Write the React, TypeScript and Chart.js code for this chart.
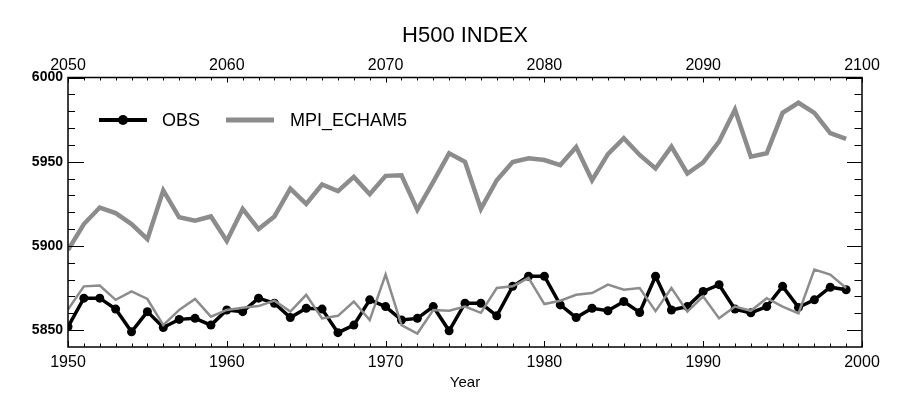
import { useEffect, useRef } from 'react';
import { Chart, registerables } from 'chart.js';

Chart.register(...registerables);

const FONT = "'Liberation Sans', Arial, Helvetica, sans-serif";

// Bottom axis (historical period)
const obsYears = [
  1950, 1951, 1952, 1953, 1954, 1955, 1956, 1957, 1958, 1959,
  1960, 1961, 1962, 1963, 1964, 1965, 1966, 1967, 1968, 1969,
  1970, 1971, 1972, 1973, 1974, 1975, 1976, 1977, 1978, 1979,
  1980, 1981, 1982, 1983, 1984, 1985, 1986, 1987, 1988, 1989,
  1990, 1991, 1992, 1993, 1994, 1995, 1996, 1997, 1998, 1999,
];
// Top axis (future period)
const futureYears = [
  2050, 2051, 2052, 2053, 2054, 2055, 2056, 2057, 2058, 2059,
  2060, 2061, 2062, 2063, 2064, 2065, 2066, 2067, 2068, 2069,
  2070, 2071, 2072, 2073, 2074, 2075, 2076, 2077, 2078, 2079,
  2080, 2081, 2082, 2083, 2084, 2085, 2086, 2087, 2088, 2089,
  2090, 2091, 2092, 2093, 2094, 2095, 2096, 2097, 2098, 2099,
];

const obsValues = [
  5852, 5869, 5869, 5862.5, 5849, 5861, 5851.6, 5856.4, 5857, 5853,
  5862, 5861, 5869, 5866, 5857.5, 5863, 5862.5, 5848.5, 5853, 5868,
  5864, 5856, 5857, 5864, 5849.6, 5866, 5866, 5858.5, 5876, 5882,
  5882, 5865, 5857.5, 5863, 5861.5, 5867, 5860.5, 5882, 5862, 5864,
  5873, 5877, 5862.5, 5860.3, 5864, 5876, 5863.5, 5868, 5875.5, 5874,
];

const mpiHistValues = [
  5862.3, 5876, 5876.5, 5868, 5873, 5868.5, 5853, 5862, 5868.5, 5858,
  5862, 5863.3, 5864.3, 5867.5, 5861, 5871, 5857, 5858.5, 5867, 5856,
  5883, 5853, 5848, 5862, 5861.5, 5864, 5860.3, 5875, 5876, 5881,
  5865.5, 5867.5, 5871, 5872, 5877, 5874, 5875, 5861.3, 5875, 5861,
  5870, 5857, 5864, 5861.5, 5869, 5864, 5860, 5886, 5883, 5875,
];

const mpiFutureValues = [
  5897.6, 5913, 5922.8, 5919.5, 5913, 5904, 5933, 5917, 5915, 5917.5,
  5903, 5922, 5910, 5917.5, 5934, 5925, 5936.5, 5932.5, 5941, 5930.7,
  5941.6, 5942, 5921.4, 5938, 5955, 5950, 5922, 5939, 5949.8, 5952,
  5951, 5948, 5958.7, 5939, 5954.5, 5964, 5954, 5946, 5959, 5943,
  5949.6, 5962, 5981, 5953, 5955, 5979, 5985, 5979, 5967, 5963.5,
];

const bottomTicks = [1950, 1960, 1970, 1980, 1990, 2000];
const topTicks = [2050, 2060, 2070, 2080, 2090, 2100];
const yTicks = [5850, 5900, 5950, 6000];

const GRAY = '#8c8c8c';

const frameTicks = {
  id: 'frameTicks',
  afterDraw(chart: any) {
    const { ctx, chartArea: a, scales } = chart;
    ctx.save();
    ctx.strokeStyle = '#000';
    ctx.lineWidth = 1;
    const seg = (x1: number, y1: number, x2: number, y2: number) => {
      ctx.beginPath();
      ctx.moveTo(x1, y1);
      ctx.lineTo(x2, y2);
      ctx.stroke();
    };
    const bx = scales.x;
    for (let yr = bx.min; yr <= bx.max; yr++) {
      const px = Math.round(bx.getPixelForValue(yr)) + 0.5;
      seg(px, a.bottom, px, a.bottom - (yr % 10 === 0 ? 6 : 3.5));
    }
    const tx = scales.x2;
    for (let yr = tx.min; yr <= tx.max; yr++) {
      const px = Math.round(tx.getPixelForValue(yr)) + 0.5;
      seg(px, a.top, px, a.top + (yr % 10 === 0 ? 5 : 3));
    }
    const ys = scales.y;
    for (let v = 5850; v <= ys.max; v += 10) {
      const py = Math.round(ys.getPixelForValue(v)) + 0.5;
      const major = v % 50 === 0;
      seg(a.left, py, a.left + (major ? 16 : 7), py);
      seg(a.right, py, a.right - (major ? 15 : 7.5), py);
    }
    ctx.lineWidth = 1.5;
    ctx.strokeRect(a.left, a.top, a.right - a.left, a.bottom - a.top);
    ctx.restore();
  },
};

const insideLegend = {
  id: 'insideLegend',
  afterDraw(chart: any) {
    const { ctx, chartArea: a } = chart;
    const ds = chart.data.datasets;
    const y = a.top + 42.5;
    ctx.save();
    ctx.font = `18px ${FONT}`;
    ctx.fillStyle = '#000';
    ctx.textBaseline = 'middle';
    ctx.textAlign = 'left';
    // OBS
    const obs = ds[2];
    let x0 = a.left + 31;
    ctx.strokeStyle = obs.borderColor;
    ctx.lineWidth = 4;
    ctx.beginPath();
    ctx.moveTo(x0, y);
    ctx.lineTo(x0 + 48, y);
    ctx.stroke();
    ctx.beginPath();
    ctx.arc(x0 + 24, y, 5, 0, Math.PI * 2);
    ctx.fillStyle = obs.borderColor;
    ctx.fill();
    ctx.fillStyle = '#000';
    ctx.fillText(obs.label, x0 + 63, y + 1);
    // MPI
    const mpi = ds[1];
    x0 = a.left + 158;
    ctx.strokeStyle = mpi.borderColor;
    ctx.lineWidth = 5;
    ctx.beginPath();
    ctx.moveTo(x0, y);
    ctx.lineTo(x0 + 48, y);
    ctx.stroke();
    ctx.fillText(mpi.label, x0 + 64, y + 1);
    ctx.restore();
  },
};

export default function App() {
  const ref = useRef<HTMLCanvasElement>(null);
  useEffect(() => {
    document.body.style.margin = '0';
    const chart = new Chart(ref.current as HTMLCanvasElement, {
      type: 'line',
      data: {
        datasets: [
          {
            label: 'MPI_ECHAM5 20C',
            data: obsYears.map((x, i) => ({ x, y: mpiHistValues[i] })),
            xAxisID: 'x',
            yAxisID: 'y',
            borderColor: GRAY,
            borderWidth: 2.5,
            pointRadius: 0,
            tension: 0,
          },
          {
            label: 'MPI_ECHAM5',
            data: futureYears.map((x, i) => ({ x, y: mpiFutureValues[i] })),
            xAxisID: 'x2',
            yAxisID: 'y',
            borderColor: GRAY,
            borderWidth: 4.5,
            pointRadius: 0,
            tension: 0,
          },
          {
            label: 'OBS',
            data: obsYears.map((x, i) => ({ x, y: obsValues[i] })),
            xAxisID: 'x',
            yAxisID: 'y',
            borderColor: '#000',
            backgroundColor: '#000',
            borderWidth: 3.5,
            pointRadius: 4.5,
            pointBorderWidth: 0,
            pointBackgroundColor: '#000',
            tension: 0,
          },
        ],
      },
      options: {
        responsive: false,
        animation: false,
        devicePixelRatio: 1,
        layout: { padding: 0 },
        plugins: {
          legend: { display: false },
          tooltip: { enabled: false },
          title: {
            display: true,
            fullSize: false,
            text: 'H500 INDEX',
            color: '#000',
            font: { family: FONT, size: 22, weight: 'normal', lineHeight: 1.2 },
            padding: { top: 23, bottom: 0 },
          },
        },
        scales: {
          x: {
            type: 'linear',
            position: 'bottom',
            min: 1950,
            max: 2000,
            afterBuildTicks: (s: any) => {
              s.ticks = bottomTicks.map((v) => ({ value: v }));
            },
            afterFit: (s: any) => {
              s.height = 54;
            },
            grid: { display: false, drawTicks: false },
            border: { display: false },
            ticks: {
              color: '#000',
              font: { family: FONT, size: 16, lineHeight: 1.2 },
              padding: 6,
              maxRotation: 0,
              autoSkip: false,
              callback: (v: any) => String(v),
            },
            title: {
              display: true,
              text: 'Year',
              color: '#000',
              font: { family: FONT, size: 15, lineHeight: 1.2 },
              padding: { top: 0, bottom: 9 },
            },
          },
          x2: {
            type: 'linear',
            position: 'top',
            min: 2050,
            max: 2100,
            afterBuildTicks: (s: any) => {
              s.ticks = topTicks.map((v) => ({ value: v }));
            },
            afterFit: (s: any) => {
              s.height = 28.1;
            },
            grid: { display: false, drawTicks: false },
            border: { display: false },
            ticks: {
              color: '#000',
              font: { family: FONT, size: 16, lineHeight: 1.2 },
              padding: 2,
              maxRotation: 0,
              autoSkip: false,
              callback: (v: any) => String(v),
            },
          },
          y: {
            type: 'linear',
            position: 'left',
            min: 5840,
            max: 6000,
            afterBuildTicks: (s: any) => {
              s.ticks = yTicks.map((v) => ({ value: v }));
            },
            afterFit: (s: any) => {
              s.width = 68;
            },
            grid: { display: false, drawTicks: false },
            border: { display: false },
            ticks: {
              color: '#000',
              font: { family: FONT, size: 14, weight: 'bold' },
              padding: 5,
              callback: (v: any) => String(v),
            },
          },
          y2: {
            type: 'linear',
            position: 'right',
            min: 5840,
            max: 6000,
            afterFit: (s: any) => {
              s.width = 41;
            },
            grid: { display: false, drawTicks: false },
            border: { display: false },
            ticks: { display: false },
          },
        },
      } as any,
      plugins: [frameTicks, insideLegend],
    });
    return () => chart.destroy();
  }, []);
  return (
    <div style={{ width: 903, height: 401 }}>
      <canvas ref={ref} width={903} height={401} style={{ display: 'block' }} />
    </div>
  );
}
